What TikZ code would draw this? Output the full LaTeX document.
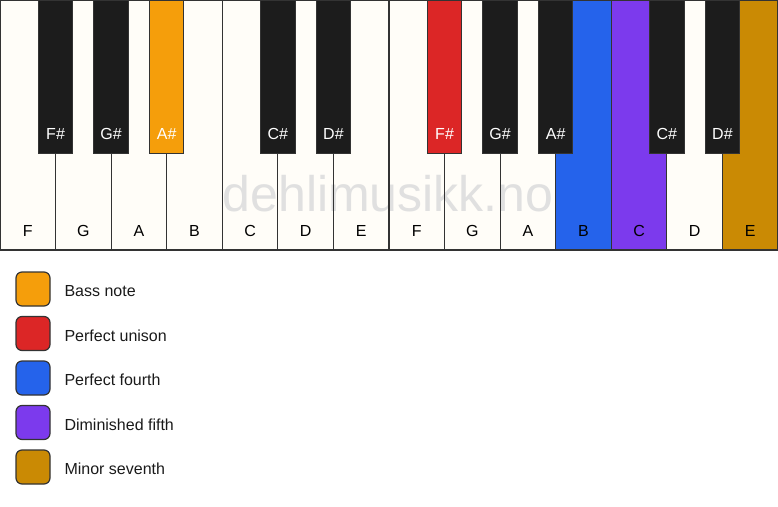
\documentclass[tikz,border=0pt]{standalone}
\usepackage{fontspec}
\setmainfont{Liberation Sans}
\definecolor{ivory}{HTML}{FFFDF8}
\definecolor{keyblack}{HTML}{1C1C1C}
\definecolor{keyline}{HTML}{333333}
\definecolor{textdark}{HTML}{1A1A1A}
\definecolor{cbass}{HTML}{F59E0B}
\definecolor{cunison}{HTML}{DC2626}
\definecolor{cfourth}{HTML}{2563EB}
\definecolor{cdimfifth}{HTML}{7C3AED}
\definecolor{cminsev}{HTML}{CA8A04}
\definecolor{wmark}{HTML}{E0E0E0}
\begin{document}
\begin{tikzpicture}[x=1pt,y=-1pt,
  wkey/.style={fill=#1, minimum width=55.571pt, minimum height=250pt, anchor=north west, inner sep=0pt, outer sep=0pt},
  wkey/.default=ivory,
  bkey/.style={draw=keyline, line width=1pt, fill=#1, minimum width=34.5pt, minimum height=153pt, anchor=north, inner sep=0pt, outer sep=0pt},
  bkey/.default=keyblack,
  keyfont/.style={font=\fontsize{16}{16}\selectfont},
  wlab/.style={keyfont, text=black, text height=11.5pt, text depth=0pt, inner sep=0pt},
  blab/.style={keyfont, text=white, text height=11.5pt, text depth=0pt, inner sep=0pt},
  swatch/.style={draw=keyline, line width=1.2pt, fill=#1, rounded corners=6pt, minimum size=34pt, inner sep=0pt},
  legtxt/.style={keyfont, anchor=west, text=textdark},
  outline/.style={draw=keyline, line width=1.2pt}
]
\useasboundingbox (0,0) rectangle (778,506);
% white keys
\foreach \i/\c in {0/ivory,1/ivory,2/ivory,3/ivory,4/ivory,5/ivory,6/ivory,7/ivory,8/ivory,9/ivory,10/cfourth,11/cdimfifth,12/ivory,13/cminsev}{
  \node[wkey=\c] (w\i) at ({\i*55.571},0) {};
}
% watermark
\node[font=\fontsize{50}{50}\selectfont, text=wmark] (wm) at (388,193.5) {dehlimusikk.no};
% outlines and labels of white keys
\foreach \i/\n in {0/F,1/G,2/A,3/B,4/C,5/D,6/E,7/F,8/G,9/A,10/B,11/C,12/D,13/E}{
  \draw[outline] (w\i.north west) rectangle (w\i.south east);
  \node[wlab] (wl\i) at ([yshift=19pt]w\i.south) {\n};
}
% black keys
\foreach \b/\n/\c in {1/F\#/keyblack,2/G\#/keyblack,3/A\#/cbass,5/C\#/keyblack,6/D\#/keyblack,8/F\#/cunison,9/G\#/keyblack,10/A\#/keyblack,12/C\#/keyblack,13/D\#/keyblack}{
  \node[bkey=\c] (b\b) at ({\b*55.571},0) {};
  \node[blab] (bl\b) at ([yshift=19.5pt]b\b.south) {\n};
}
% legend
\foreach \k/\c/\t in {0/cbass/Bass note,1/cunison/Perfect unison,2/cfourth/Perfect fourth,3/cdimfifth/Diminished fifth,4/cminsev/Minor seventh}{
  \node[swatch=\c] (s\k) at (33,{289+\k*44.5}) {};
  \node[legtxt] (t\k) at (61,{291+\k*44.5}) {\t};
}
\end{tikzpicture}
\end{document}
